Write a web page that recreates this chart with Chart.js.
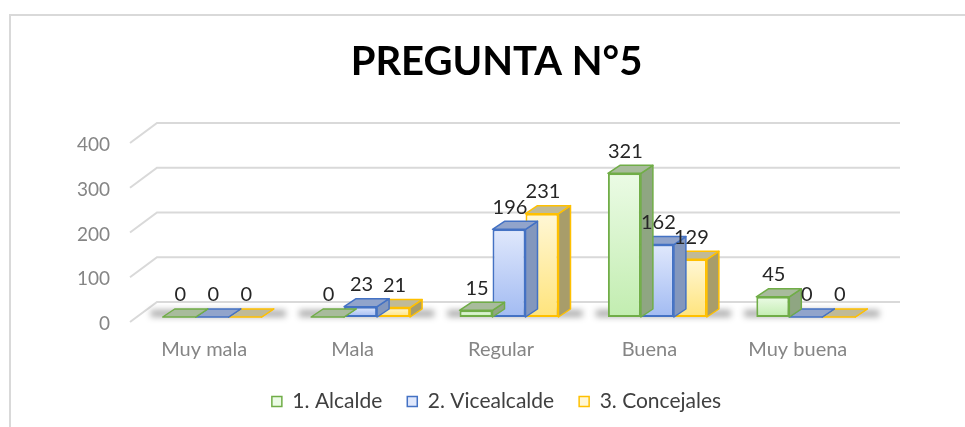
<!DOCTYPE html>
<html lang="es">
<head>
<meta charset="utf-8">
<title>Pregunta N°5</title>
<script src="https://cdn.jsdelivr.net/npm/chart.js@4.4.1/dist/chart.umd.min.js"></script>
<style>
  html, body { margin: 0; padding: 0; background: #fff; }
  #wrap { width: 965px; height: 427px; }
</style>
</head>
<body>
<div id="wrap"><canvas id="chart" width="965" height="427"></canvas></div>
<script>
/* ── datos ─────────────────────────────────────────── */
const categories  = ['Muy mala', 'Mala', 'Regular', 'Buena', 'Muy buena'];
const seriesNames = ['1. Alcalde', '2. Vicealcalde', '3. Concejales'];
const alcalde     = [0, 0, 15, 321, 45];
const vicealcalde = [0, 23, 196, 162, 0];
const concejales  = [0, 21, 231, 129, 0];
const yTicks      = [0, 100, 200, 300, 400];

/* ── estilo ────────────────────────────────────────── */
const FONT = 'Lato';
const PALETTE = [
  { edge: '#70ad47', light: '#ebfbe5', dark: '#c2edb0', side: '#8fa682', top: '#a8bb9c' },
  { edge: '#4472c4', light: '#e0e8fc', dark: '#a2bbf2', side: '#8397bd', top: '#91a4cb' },
  { edge: '#ffc000', light: '#fff7d6', dark: '#ffe47c', side: '#a89d6a', top: '#c0ba97' },
];
const DEPTH_X = 12, DEPTH_Y = 8;   // caras laterales / superiores
const LIFT = 5;                    // barras un poco detrás del borde del piso
const FLOOR_Y = 322;               // borde frontal del piso (valor 0)
const PLOT_LEFT = 138, PLOT_RIGHT = 880;
const PAD = { left: 66, right: 38, top: 0, bottom: 5 };

function barFill(i) {
  const p = PALETTE[i];
  return ctx => {
    if (ctx.type !== 'data') return p.light;
    const chart = ctx.chart;
    if (!chart.chartArea) return p.light;
    const ys = chart.scales.y;
    const top = ys.getPixelForValue(ctx.raw);
    const bottom = ys.getPixelForValue(0);
    if (bottom - top < 1) return p.light;
    const g = chart.ctx.createLinearGradient(0, top, 0, bottom);
    g.addColorStop(0, p.light);
    g.addColorStop(1, p.dark);
    return g;
  };
}

// marco, paredes, caras 3D, sombras y etiquetas
const bars3d = {
  id: 'bars3d',
  beforeDraw(chart) {
    const { ctx, width, height } = chart;
    ctx.save();
    ctx.fillStyle = '#fff';
    ctx.fillRect(0, 0, width, height);
    ctx.strokeStyle = '#d9d9d9';
    ctx.lineWidth = 2;
    ctx.beginPath();
    ctx.moveTo(10, height); ctx.lineTo(10, 15); ctx.lineTo(width, 15);
    ctx.stroke();
    ctx.restore();
  },
  beforeDatasetsDraw(chart) {
    const { ctx, chartArea: a, scales: { y } } = chart;
    ctx.save();
    ctx.strokeStyle = '#d9d9d9';
    ctx.lineWidth = 2;
    y.ticks.forEach(t => {
      const py = y.getPixelForValue(t.value);
      ctx.beginPath();
      ctx.moveTo(a.left - 8, py);
      ctx.lineTo(a.left + 19, py - 20);
      ctx.lineTo(a.right + 20, py - 20);
      ctx.stroke();
    });
    ctx.restore();

    ctx.save();
    ctx.translate(0, -LIFT);

    // sombra bajo cada grupo
    const first = chart.getDatasetMeta(0).data;
    const last = chart.getDatasetMeta(chart.data.datasets.length - 1).data;
    ctx.save();
    ctx.filter = 'blur(3px)';
    ctx.fillStyle = 'rgba(0,0,0,0.32)';
    first.forEach((el, i) => {
      const l = el.x - el.width / 2 - 12;
      const r = last[i].x + last[i].width / 2 + DEPTH_X + 12;
      ctx.fillRect(l, el.base - 7, r - l, 7);
    });
    ctx.restore();
  },
  beforeDatasetDraw(chart, args) {
    const { ctx } = chart;
    const p = PALETTE[args.index];
    ctx.save();
    ctx.strokeStyle = p.edge;
    ctx.lineWidth = 1.5;
    ctx.lineJoin = 'round';
    args.meta.data.forEach(el => {
      const l = el.x - el.width / 2, r = el.x + el.width / 2;
      const top = el.y, base = el.base;
      // lado
      ctx.beginPath();
      ctx.moveTo(r, top); ctx.lineTo(r + DEPTH_X, top - DEPTH_Y);
      ctx.lineTo(r + DEPTH_X, base - DEPTH_Y); ctx.lineTo(r, base);
      ctx.closePath();
      ctx.fillStyle = p.side; ctx.fill(); ctx.stroke();
      // tapa
      ctx.beginPath();
      ctx.moveTo(l, top); ctx.lineTo(l + DEPTH_X, top - DEPTH_Y);
      ctx.lineTo(r + DEPTH_X, top - DEPTH_Y); ctx.lineTo(r, top);
      ctx.closePath();
      ctx.fillStyle = p.top; ctx.fill(); ctx.stroke();
    });
    ctx.restore();
  },
  afterDatasetsDraw(chart) {
    const { ctx } = chart;
    ctx.save();
    ctx.font = `20px ${FONT}`;
    ctx.fillStyle = '#262626';
    ctx.textAlign = 'center';
    ctx.textBaseline = 'middle';
    chart.data.datasets.forEach((ds, i) => {
      chart.getDatasetMeta(i).data.forEach((el, j) => {
        ctx.fillText(String(ds.data[j]), el.x + 1, el.y - 22);
      });
    });
    ctx.restore();
    ctx.restore(); // translate de beforeDatasetsDraw
  },
};

const datasets = [alcalde, vicealcalde, concejales].map((data, i) => ({
  label: seriesNames[i],
  data,
  backgroundColor: barFill(i),
  borderColor: PALETTE[i].edge,
  borderWidth: 2,
  borderSkipped: false,
  clip: false,
  categoryPercentage: 0.667,
  barPercentage: 1,
}));

new Chart(document.getElementById('chart'), {
  type: 'bar',
  data: { labels: categories, datasets },
  plugins: [bars3d],
  options: {
    responsive: false,
    animation: false,
    layout: { padding: PAD },
    plugins: {
      tooltip: { enabled: false },
      title: {
        display: true,
        text: 'PREGUNTA N°5',
        color: '#000',
        font: { family: FONT, size: 40, weight: 'bold' },
        padding: { top: 38, bottom: 57 },
      },
      legend: {
        position: 'bottom',
        labels: {
          font: { family: FONT, size: 21 },
          color: '#404040',
          boxWidth: 10,
          boxHeight: 10,
          padding: 25,
          generateLabels: chart => chart.data.datasets.map((ds, i) => ({
            text: ds.label,
            fillStyle: PALETTE[i].light,
            strokeStyle: PALETTE[i].edge,
            lineWidth: 1.5,
            fontColor: '#404040',
            hidden: false,
            datasetIndex: i,
          })),
        },
      },
    },
    scales: {
      x: {
        grid: { display: false, drawTicks: false },
        border: { display: false },
        ticks: { font: { family: FONT, size: 20 }, color: '#858585', padding: 16, labelOffset: -8 },
        afterFit: s => { s.height = s.chart.height - PAD.bottom - s.chart.legend.height - FLOOR_Y; },
      },
      y: {
        min: yTicks[0],
        max: yTicks[yTicks.length - 1],
        grid: { display: false, drawTicks: false },
        border: { display: false },
        ticks: { font: { family: FONT, size: 19 }, color: '#858585', padding: 28, labelOffset: 2 },
        afterBuildTicks: s => { s.ticks = yTicks.map(v => ({ value: v })); },
        afterFit: s => { s.width = PLOT_LEFT - PAD.left; },
      },
      // espacio vacío a la derecha del área de barras
      spacer: {
        position: 'right',
        grid: { display: false, drawTicks: false },
        border: { display: false },
        ticks: { display: false },
        afterFit: s => { s.width = s.chart.width - PAD.right - PLOT_RIGHT; },
      },
    },
  },
});
</script>
</body>
</html>
